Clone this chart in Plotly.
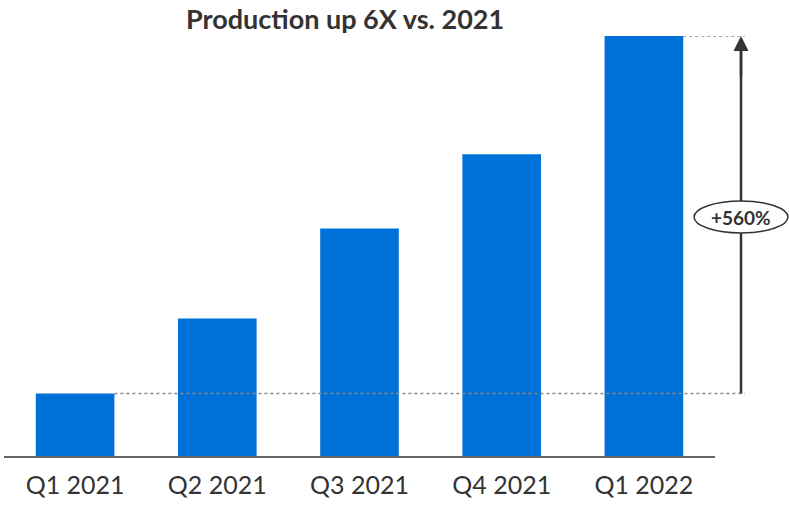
import plotly.graph_objects as go

categories = ["Q1 2021", "Q2 2021", "Q3 2021", "Q4 2021", "Q1 2022"]
production = [1.0, 2.2, 3.64, 4.83, 6.72]
title_text = "Production up 6X vs. 2021"
growth_label = "+560%"

BAR_COLOR = "#0071D8"
TEXT_COLOR = "#333333"
FONT = "Lato, 'Open Sans', sans-serif"
bargap = 0.447
n = len(categories)

fig = go.Figure(go.Bar(
    x=categories, y=production,
    marker=dict(color=BAR_COLOR, line=dict(width=0)),
    hoverinfo="skip",
))

def bar_right_paper(i):
    return (i + 0.5 + (1 - bargap) / 2) / n

base = production[0]
top = production[-1]
arrow_x = 1.0366
line_end = 1.042

shapes = [
    dict(type="line", xref="paper", yref="y", x0=bar_right_paper(n - 1), x1=line_end,
         y0=top, y1=top, line=dict(color="#8a8a8a", width=1.5, dash="dot")),
    dict(type="line", xref="paper", yref="y", x0=bar_right_paper(0), x1=line_end,
         y0=base, y1=base, line=dict(color="#8a8a8a", width=1.5, dash="dot")),
    dict(type="line", xref="paper", yref="y", x0=arrow_x, x1=arrow_x,
         y0=base, y1=top * 0.97, line=dict(color=TEXT_COLOR, width=2.5)),
    dict(type="circle", xref="paper", yref="paper", x0=arrow_x - 0.066, x1=arrow_x + 0.066,
         y0=0.531, y1=0.607, line=dict(color=TEXT_COLOR, width=1.5), fillcolor="white"),
]

annotations = [
    dict(x=arrow_x, y=top, xref="paper", yref="y", ax=0, ay=top * 0.9, axref="pixel", ayref="y",
         showarrow=True, arrowhead=2, arrowsize=1.2, arrowwidth=2.5, arrowcolor=TEXT_COLOR, text=""),
    dict(x=arrow_x, y=0.569, xref="paper", yref="paper", xanchor="center", yanchor="middle",
         text=f"<b>{growth_label}</b>",
         showarrow=False, font=dict(size=19, color=TEXT_COLOR, family=FONT)),
    dict(x=0.479, y=1.042, xref="paper", yref="paper", xanchor="center", yanchor="middle",
         text=f"<b>{title_text}</b>", showarrow=False,
         font=dict(size=27, color=TEXT_COLOR, family=FONT)),
]

fig.update_layout(
    width=789, height=505,
    margin=dict(l=4, r=74, t=36, b=49),
    paper_bgcolor="white", plot_bgcolor="white",
    bargap=bargap,
    showlegend=False,
    shapes=shapes,
    annotations=annotations,
    font=dict(family=FONT, color=TEXT_COLOR),
    xaxis=dict(showline=True, linecolor="#666666", linewidth=2, ticks="",
               tickfont=dict(size=25, color=TEXT_COLOR, family=FONT),
               ticklabelstandoff=6,
               showgrid=False, zeroline=False, fixedrange=True, automargin=False),
    yaxis=dict(range=[0, top], visible=False, showgrid=False, zeroline=False, fixedrange=True),
)

fig.write_html("out.html", config={"displayModeBar": False},
               post_script="document.body.style.margin='0px';")
